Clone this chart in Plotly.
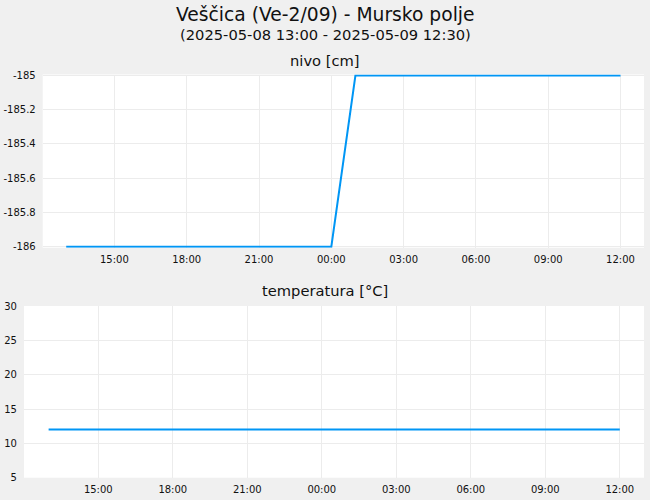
import plotly.graph_objects as go

# vremena mjerenja (sat po sat)
vrijeme = [
    "2025-05-08 13:00", "2025-05-08 14:00", "2025-05-08 15:00", "2025-05-08 16:00",
    "2025-05-08 17:00", "2025-05-08 18:00", "2025-05-08 19:00", "2025-05-08 20:00",
    "2025-05-08 21:00", "2025-05-08 22:00", "2025-05-08 23:00", "2025-05-09 00:00",
    "2025-05-09 01:00", "2025-05-09 02:00", "2025-05-09 03:00", "2025-05-09 04:00",
    "2025-05-09 05:00", "2025-05-09 06:00", "2025-05-09 07:00", "2025-05-09 08:00",
    "2025-05-09 09:00", "2025-05-09 10:00", "2025-05-09 11:00", "2025-05-09 12:00",
]

nivo = [
    -186, -186, -186, -186, -186, -186, -186, -186, -186, -186, -186, -186,
    -185, -185, -185, -185, -185, -185, -185, -185, -185, -185, -185, -185,
]

temperatura = [
    12.0, 12.0, 12.0, 12.0, 12.0, 12.0, 12.0, 12.0, 12.0, 12.0, 12.0, 12.0,
    12.0, 12.0, 12.0, 12.0, 12.0, 12.0, 12.0, 12.0, 12.0, 12.0, 12.0, 12.0,
]

nivo_tickovi = [-185, -185.2, -185.4, -185.6, -185.8, -186]
nivo_oznake = ["-185", "-185.2", "-185.4", "-185.6", "-185.8", "-186"]

naslov = "Veščica (Ve-2/09) - Mursko polje"
podnaslov = "(2025-05-08 13:00 - 2025-05-09 12:30)"

plava = "#0096f5"
pozadina = "#f0f0f0"
mreza = "#ececec"
font = "DejaVu Sans"

fig = go.Figure()

fig.add_trace(go.Scatter(x=vrijeme, y=nivo, mode="lines",
                         line=dict(color=plava, width=2),
                         xaxis="x", yaxis="y", showlegend=False))
fig.add_trace(go.Scatter(x=vrijeme, y=temperatura, mode="lines",
                         line=dict(color=plava, width=2),
                         xaxis="x2", yaxis="y2", showlegend=False))

os_x = dict(type="date", tickformat="%H:%M", dtick=3 * 3600 * 1000,
            tick0="2025-05-08 00:00", showgrid=True, gridcolor=mreza,
            zeroline=False, showline=False, ticks="outside", ticklen=2,
            tickcolor="rgba(0,0,0,0)", tickfont=dict(size=10, color="#111"),
            automargin=False)
os_y = dict(showgrid=True, gridcolor=mreza, zeroline=False, showline=False,
            ticks="outside", ticklen=4, tickcolor="rgba(0,0,0,0)",
            tickfont=dict(size=10, color="#111"), automargin=False)


def natpis(tekst, y_px, velicina):
    return dict(text=tekst, x=0.5, y=1 - y_px / 500, xref="paper", yref="paper",
                xanchor="center", yanchor="middle", showarrow=False,
                font=dict(size=velicina, color="#111"))


fig.update_layout(
    width=650, height=500,
    paper_bgcolor=pozadina, plot_bgcolor="white",
    font=dict(family=font, color="#111"),
    margin=dict(l=0, r=0, t=0, b=0),
    xaxis=dict(os_x, domain=[0.0657, 0.9908], anchor="y",
               range=["2025-05-08 12:01:30", "2025-05-09 12:58:30"]),
    yaxis=dict(os_y, domain=[0.5046, 0.851], anchor="x",
               range=[-186.006, -184.994], tickvals=nivo_tickovi,
               ticktext=nivo_oznake),
    xaxis2=dict(os_x, domain=[0.0369, 0.9908], anchor="y2",
                range=["2025-05-08 12:00:30", "2025-05-09 12:58:30"]),
    yaxis2=dict(os_y, domain=[0.0446, 0.388], anchor="x2",
                range=[5, 30], dtick=5),
    annotations=[
        natpis(naslov, 14, 18.7),
        natpis(podnaslov, 34, 14.7),
        natpis("nivo [cm]", 60, 14.7),
        natpis("temperatura [°C]", 290, 14.7),
    ],
)

fig.write_html("out.html", config={"displayModeBar": False},
               post_script="document.body.style.margin = '0';")
